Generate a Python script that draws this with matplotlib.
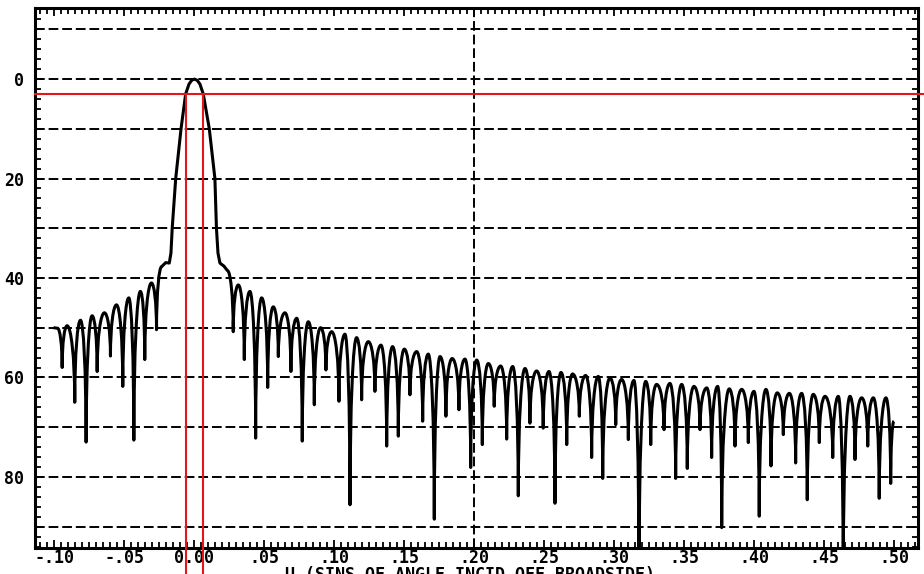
import matplotlib
matplotlib.use("Agg")
import matplotlib.pyplot as plt
from matplotlib.path import Path
from matplotlib.patches import PathPatch
from matplotlib.ticker import MultipleLocator, FixedLocator

# Array pattern: attenuation in dB below the beam peak versus u = sin(theta)
start_u, start_db = -0.1007, 50.0
end_u, end_db = 0.4996, 68.8

left_null_u = [-0.0945, -0.0855, -0.0774, -0.0695, -0.0600, -0.0512, -0.0433, -0.0355, -0.0271]
left_null_db = [58.0, 65.0, 73.0, 58.8, 55.7, 61.8, 72.6, 56.4, 50.4]
left_peak_u = [-0.0910, -0.0814, -0.0731, -0.0643, -0.0557, -0.0469, -0.0386, -0.0307]
left_peak_db = [49.6, 48.5, 47.6, 47.0, 45.4, 44.0, 42.7, 41.0]

# main beam with its shoulders
main_u = [-0.0234, -0.0205, -0.0180, -0.0168, -0.0159, -0.0134, -0.0096, -0.0063,
          -0.0039, -0.0020, 0.0000, 0.0020, 0.0039, 0.0063, 0.0106, 0.0146,
          0.0157, 0.0168, 0.0182, 0.0210, 0.0235]
main_db = [37.7, 36.9, 37.0, 35.0, 30.0, 20.0, 10.0, 3.0,
           1.0, 0.25, 0.0, 0.25, 1.0, 3.0, 10.0, 20.0,
           30.0, 35.0, 37.0, 37.6, 38.5]

right_null_u = [0.0277, 0.0356, 0.0437, 0.0523, 0.0599, 0.0689, 0.0770, 0.0856, 0.0939, 0.1032,
                0.1111, 0.1194, 0.1289, 0.1373, 0.1456, 0.1539, 0.1630, 0.1713, 0.1796, 0.1889,
                0.1973, 0.2056, 0.2141, 0.2230, 0.2313, 0.2396, 0.2491, 0.2575, 0.2659, 0.2749,
                0.2837, 0.2916, 0.3009, 0.3099, 0.3175, 0.3259, 0.3354, 0.3437, 0.3520, 0.3611,
                0.3694, 0.3766, 0.3861, 0.3956, 0.4034, 0.4118, 0.4206, 0.4294, 0.4377, 0.4463,
                0.4559, 0.4634, 0.4718, 0.4809, 0.4891, 0.4973]
right_null_db = [50.8, 56.4, 72.2, 62.0, 55.8, 58.8, 72.8, 65.5, 58.5, 64.8,
                 85.6, 64.5, 62.8, 73.8, 71.8, 63.5, 68.8, 88.5, 67.8, 66.5,
                 78.1, 73.5, 65.8, 72.4, 83.8, 69.2, 70.2, 85.3, 73.5, 67.8,
                 76.1, 80.3, 69.5, 72.5, 100.0, 73.5, 70.5, 80.3, 78.3, 70.5,
                 76.1, 90.2, 73.8, 73.1, 87.9, 77.8, 71.5, 77.2, 84.6, 73.1,
                 76.1, 100.0, 76.5, 73.8, 84.3, 81.3]
right_peak_u = [0.0313, 0.0396, 0.0480, 0.0563, 0.0646, 0.0730, 0.0813, 0.0901, 0.0980, 0.1075,
                0.1158, 0.1242, 0.1332, 0.1415, 0.1499, 0.1587, 0.1670, 0.1754, 0.1841, 0.1932,
                0.2016, 0.2099, 0.2187, 0.2273, 0.2361, 0.2444, 0.2532, 0.2618, 0.2701, 0.2794,
                0.2884, 0.2968, 0.3051, 0.3139, 0.3223, 0.3301, 0.3396, 0.3480, 0.3568, 0.3659,
                0.3737, 0.3820, 0.3909, 0.3996, 0.4082, 0.4163, 0.4249, 0.4337, 0.4420, 0.4504,
                0.4599, 0.4682, 0.4766, 0.4849, 0.4939]
right_peak_db = [41.4, 42.7, 44.0, 45.8, 47.0, 48.1, 48.8, 50.0, 50.8, 51.3,
                 52.0, 52.8, 53.5, 53.8, 54.3, 54.8, 55.3, 55.8, 56.2, 56.3,
                 56.5, 57.2, 57.7, 57.8, 58.2, 58.7, 58.8, 59.0, 59.3, 59.6,
                 59.8, 60.1, 60.4, 60.6, 60.8, 61.4, 61.2, 61.4, 61.8, 62.1,
                 61.8, 62.3, 62.4, 62.8, 62.4, 63.1, 63.2, 63.2, 63.4, 63.8,
                 63.8, 63.8, 64.1, 64.1, 64.1]

half_power_db = 3.0
beam_edges = [-0.0063, 0.0063]

grid_db = [-10, 0, 10, 20, 30, 40, 50, 60, 70, 80, 90]
x_ticks = [-0.10, -0.05, 0.00, 0.05, 0.10, 0.15, 0.20, 0.25, 0.30, 0.35, 0.40, 0.45, 0.50]
x_labels = ["-.10", "-.05", "0.00", ".05", ".10", ".15", ".20", ".25", ".30", ".35", ".40", ".45", ".50"]
y_ticks = [0, 20, 40, 60, 80]
y_labels = ["0", "20", "40", "60", "80"]
x_title = "U (SINS OF ANGLE INCID OFF BROADSIDE)"

# lobe shape: K pulls the null end upward, H sets the flat width of the top
K, H = 0.6, 0.5


def rise(verts, codes, a, da, m, dm):
    verts += [(a, da + K * (dm - da)), (m - H * (m - a), dm), (m, dm)]
    codes += [Path.CURVE4] * 3


def fall(verts, codes, m, dm, b, db):
    verts += [(m + H * (b - m), dm), (b, db + K * (dm - db)), (b, db)]
    codes += [Path.CURVE4] * 3


verts = [(start_u, start_db), (-0.0978, 50.1)]
codes = [Path.MOVETO, Path.LINETO]
fall(verts, codes, -0.0978, 50.1, left_null_u[0], left_null_db[0])
for i in range(len(left_peak_u)):
    rise(verts, codes, left_null_u[i], left_null_db[i], left_peak_u[i], left_peak_db[i])
    fall(verts, codes, left_peak_u[i], left_peak_db[i], left_null_u[i + 1], left_null_db[i + 1])
rise(verts, codes, left_null_u[-1], left_null_db[-1], main_u[0], main_db[0])
for u, d in zip(main_u[1:], main_db[1:]):
    verts.append((u, d))
    codes.append(Path.LINETO)
fall(verts, codes, main_u[-1], main_db[-1], right_null_u[0], right_null_db[0])
for i in range(len(right_peak_u)):
    rise(verts, codes, right_null_u[i], right_null_db[i], right_peak_u[i], right_peak_db[i])
    fall(verts, codes, right_peak_u[i], right_peak_db[i], right_null_u[i + 1], right_null_db[i + 1])
rise(verts, codes, right_null_u[-1], right_null_db[-1], end_u, end_db)

plt.rcParams["font.family"] = "DejaVu Sans Mono"
plt.rcParams["font.weight"] = "bold"

fig = plt.figure(figsize=(9.24, 5.74), dpi=100)
ax = fig.add_axes([35 / 924, 26 / 574, 883 / 924, 540 / 574])
ax.set_xlim(-0.1139, 0.5168)
ax.set_ylim(94.3, -14.3)

# dashed reference grid
for g in grid_db:
    ax.axhline(g, color="black", lw=1.4, ls=(0, (5, 2)), zorder=1)
ax.axvline(0.20, color="black", lw=1.4, ls=(0, (5, 2)), zorder=1)

ax.add_patch(PathPatch(Path(verts, codes), fill=False, edgecolor="black",
                       lw=2.2, joinstyle="round", zorder=3))

# half-power markers run past the frame
red = "#e3161e"
ax.plot([ax.get_xlim()[0], 0.522], [half_power_db, half_power_db],
        color=red, lw=1.5, clip_on=False, zorder=4)
for b in beam_edges:
    ax.plot([b, b], [half_power_db, 100.0], color=red, lw=1.5, clip_on=False, zorder=4)

ax.xaxis.set_major_locator(FixedLocator(x_ticks))
ax.set_xticklabels(x_labels)
ax.xaxis.set_minor_locator(MultipleLocator(0.005))
ax.yaxis.set_major_locator(FixedLocator(y_ticks))
ax.set_yticklabels(y_labels)
ax.yaxis.set_minor_locator(MultipleLocator(2))
ax.tick_params(which="both", direction="in", top=True, right=True, width=1.3, color="black")
ax.tick_params(which="major", length=6, labelsize=12, pad=1)
ax.tick_params(which="minor", length=4)
ax.tick_params(axis="y", which="major", pad=8)
for s in ax.spines.values():
    s.set_linewidth(2.2)

fig.text(470 / 924, -6 / 574, x_title, ha="center", va="baseline", fontsize=12)

fig.savefig("out.png", dpi=100)
